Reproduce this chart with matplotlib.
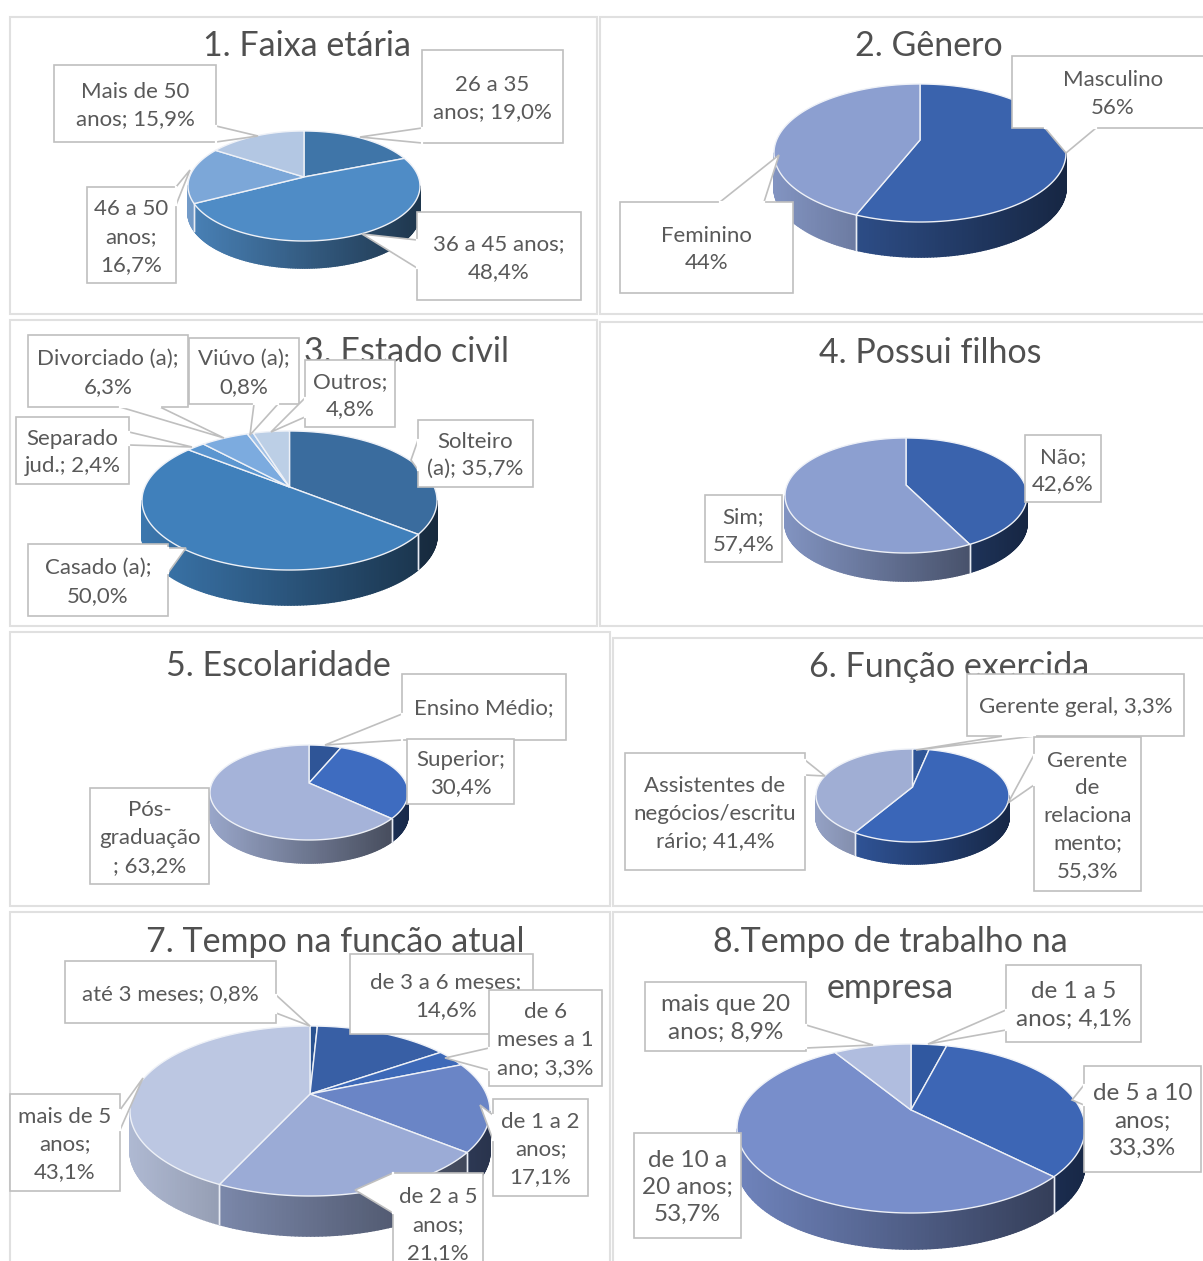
import numpy as np
from matplotlib import pyplot as plt
from matplotlib.collections import PolyCollection
from matplotlib.colors import to_rgb
from matplotlib.patches import Polygon, Rectangle

plt.rcParams['font.family'] = ['Lato', 'DejaVu Sans']

# dados de cada grafico
titles = ['1. Faixa etária', '2. Gênero', '3. Estado civil', '4. Possui filhos',
          '5. Escolaridade', '6. Função exercida', '7. Tempo na função atual',
          '8.Tempo de trabalho na', 'empresa']
v1 = [19.0, 48.4, 16.7, 15.9]
v2 = [56, 44]
v3 = [35.7, 50.0, 2.4, 6.3, 0.8, 4.8]
v4 = [42.6, 57.4]
v5 = [6.4, 30.4, 63.2]
v6 = [3.3, 55.3, 41.4]
v7 = [0.8, 14.6, 3.3, 17.1, 21.1, 43.1]
v8 = [4.1, 33.3, 53.7, 8.9]

l1 = ['26 a 35\nanos; 19,0%', '36 a 45 anos;\n48,4%', '46 a 50\nanos;\n16,7%', 'Mais de 50\nanos; 15,9%']
l2 = ['Masculino\n56%', 'Feminino\n44%']
l3 = ['Solteiro\n(a); 35,7%', 'Casado (a);\n50,0%', 'Separado\njud.; 2,4%',
      'Divorciado (a);\n6,3%', 'Viúvo (a);\n0,8%', 'Outros;\n4,8%']
l4 = ['Não;\n42,6%', 'Sim;\n57,4%']
l5 = ['Ensino Médio;', 'Superior;\n30,4%', 'Pós-\ngraduação\n; 63,2%']
l6 = ['Gerente geral, 3,3%', 'Gerente\nde\nrelaciona\nmento;\n55,3%',
      'Assistentes de\nnegócios/escritu\nrário; 41,4%']
l7 = ['até 3 meses; 0,8%', 'de 3 a 6 meses;\n14,6%', 'de 6\nmeses a 1\nano; 3,3%',
      'de 1 a 2\nanos;\n17,1%', 'de 2 a 5\nanos;\n21,1%', 'mais de 5\nanos;\n43,1%']
l8 = ['de 1 a 5\nanos; 4,1%', 'de 5 a 10\nanos;\n33,3%', 'de 10 a\n20 anos;\n53,7%', 'mais que 20\nanos; 8,9%']

c1 = ['#3f75a8', '#4f8cc6', '#7ca7d8', '#b3c7e3']
c2 = ['#3a63ad', '#8c9fd0']
c3 = ['#3a6c9e', '#4080bb', '#5b96d0', '#7cabdf', '#9fc0e6', '#bccfe6']
c4 = ['#3a63ad', '#8c9fd0']
c5 = ['#2f5597', '#3e6cc0', '#a5b3d9']
c6 = ['#2f5597', '#3a66b8', '#a0aed4']
c7 = ['#2a5290', '#385fa5', '#3d69b8', '#6a85c6', '#9babd6', '#bcc7e2']
c8 = ['#3058a0', '#3d66b5', '#788ecb', '#b0bddf']

# posicoes em pixels: esquerda, direita, topo, baixo, centro y, profundidade
pie_pos = [(188, 420, 131, 241, 177, 27), (774, 1066, 84, 222, 140, 35),
           (142, 437, 431, 570, 487, 35), (785, 1027, 438, 553, 485, 28),
           (210, 408, 745, 840, 783, 23), (816, 1009, 749, 842, 787, 22),
           (130, 490, 1026, 1196, 1094, 40), (737, 1085, 1044, 1213, 1110, 36)]

frames = [(10, 17, 597, 314), (600, 17, 1210, 314), (10, 320, 597, 626), (600, 322, 1210, 626),
          (10, 632, 610, 906), (613, 638, 1210, 906), (10, 912, 610, 1270), (613, 912, 1210, 1270)]
title_pos = [(307, 46), (929, 46), (406, 352), (930, 353), (278, 666), (949, 667), (335, 942),
             (890, 942), (890, 988)]
label_size = [16, 16, 16, 16, 16, 16, 16, 17.5]

# caixa (x0, y0, x1, y1), ponta e base do balao (None = sem seta)
box1 = [((422, 50, 563, 143), (360, 137), ((422, 128), (422, 143))),
        ((417, 212, 581, 300), (362, 234), ((417, 240), (417, 268))),
        ((87, 187, 176, 283), (190, 170), ((176, 187), (176, 205))),
        ((54, 65, 216, 142), (258, 136), ((216, 126), (216, 142)))]
box2 = [((1012, 56, 1210, 128), (1066, 153), ((1045, 128), (1096, 128))),
        ((620, 202, 793, 293), (779, 155), ((720, 202), (764, 202)))]
box3 = [((418, 420, 533, 487), (411, 460), ((418, 440), (418, 470))),
        ((28, 544, 168, 616), (186, 548), ((168, 548), (168, 573))),
        ((16, 417, 129, 484), (192, 447), ((129, 432), (129, 445))),
        ((28, 335, 188, 407), (224, 438), ((120, 407), (160, 407))),
        ((189, 338, 299, 404), (250, 435), ((254, 404), (278, 404))),
        ((305, 360, 395, 427), (271, 432), ((305, 398), (305, 417)))]
box4 = [((1025, 435, 1101, 502), None, None), ((705, 495, 782, 562), None, None)]
box5 = [((402, 674, 566, 740), (325, 745), ((402, 714), (402, 740))),
        ((407, 739, 514, 804), None, None),
        ((90, 788, 209, 884), None, None)]
box6 = [((967, 674, 1184, 736), (916, 750), ((1003, 736), (1035, 736))),
        ((1034, 737, 1141, 891), (1008, 803), ((1034, 755), (1034, 785))),
        ((625, 753, 805, 870), (825, 776), ((805, 760), (805, 775)))]
box7 = [((65, 961, 276, 1023), (310, 1026), ((276, 995), (276, 1013))),
        ((350, 954, 533, 1034), None, None),
        ((489, 990, 602, 1086), (445, 1058), ((489, 1048), (489, 1070))),
        ((493, 1099, 588, 1196), (480, 1105), ((493, 1115), (493, 1140))),
        ((393, 1173, 483, 1273), (355, 1190), ((393, 1173), (393, 1213))),
        ((10, 1094, 120, 1191), (143, 1078), ((120, 1110), (120, 1130)))]
box8 = [((1006, 965, 1141, 1042), (928, 1044), ((1006, 1010), (1006, 1030))),
        ((1084, 1066, 1201, 1172), (1072, 1100), ((1084, 1085), (1084, 1105))),
        ((634, 1133, 741, 1238), None, None),
        ((645, 982, 806, 1051), (873, 1045), ((806, 1025), (806, 1048)))]

fig = plt.figure(figsize=(12.03, 12.61), dpi=100)
ax = fig.add_axes([0, 0, 1, 1])


def shade(color, f):
    return tuple(min(1, c * f) for c in to_rgb(color))


def draw_pie(values, colors, pos):
    left, right, top, bottom, apex, depth = pos
    a = apex - top
    b = bottom - apex
    k = (b - a) / (b + a)  # perspectiva
    sy = a * (1 + k)
    sx = (right - left) / 2 * np.sqrt(1 - k ** 2)
    cx = (left + right) / 2

    def warp(t):
        x = np.cos(t)
        y = np.sin(t)
        w = 1 + k * y
        return cx + sx * x / w, apex - sy * y / w

    wedges = ax.pie(values, colors=colors, startangle=90, counterclock=False)[0]
    angles = [(w.theta1, w.theta2) for w in wedges]
    for w in wedges:
        w.remove()

    # lateral
    for (t1, t2), color in zip(angles, colors):
        ts = np.radians(np.arange(t1, t2 + 1, 1))
        ts[-1] = np.radians(t2)
        quads, cols = [], []
        for p, q in zip(ts[:-1], ts[1:]):
            if np.sin((p + q) / 2) >= -k:
                continue
            x1, y1 = warp(p)
            x2, y2 = warp(q)
            quads.append([(x1, y1), (x2, y2), (x2, y2 + depth), (x1, y1 + depth)])
            u = ((x1 + x2) / 2 - cx) / ((right - left) / 2)
            cols.append(shade(color, 0.66 - 0.27 * u))
        if quads:
            ax.add_collection(PolyCollection(quads, facecolors=cols, edgecolors=cols, linewidths=1.2, zorder=3))
        for t in np.radians([t1, t2]):
            if np.sin(t) < -k:
                x, y = warp(t)
                ax.plot([x, x], [y, y + depth], color='#e8ecf4', lw=1, zorder=4)

    # topo
    for (t1, t2), color in zip(angles, colors):
        ts = np.radians(np.linspace(t1, t2, 200))
        xs, ys = warp(ts)
        pts = np.vstack([[cx, apex], np.column_stack([xs, ys])])
        ax.add_patch(Polygon(pts, closed=True, facecolor=color, edgecolor='#eef1f7', lw=1, zorder=5))


def draw_label(box, tip, base, z):
    x0, y0, x1, y1 = box
    if tip is not None:
        ax.add_patch(Polygon([base[0], tip, base[1]], closed=True, facecolor='white',
                             edgecolor='#bfbfbf', lw=1.2, zorder=z))
    ax.add_patch(Rectangle((x0, y0), x1 - x0, y1 - y0, facecolor='white',
                           edgecolor='#bfbfbf', lw=1.2, zorder=z))
    if tip is not None:
        ax.plot([base[0][0], base[1][0]], [base[0][1], base[1][1]], color='white', lw=1.6, zorder=z)
    return (x0 + x1) / 2, (y0 + y1) / 2


for f in frames:
    ax.add_patch(Rectangle((f[0], f[1]), f[2] - f[0], f[3] - f[1], facecolor='white',
                           edgecolor='#e0e0e0', lw=1.5, zorder=1))

for t, (x, y) in zip(titles, title_pos):
    ax.text(x, y, t, fontsize=24.5, color='#505050', ha='center', va='center', zorder=2)

all_values = [v1, v2, v3, v4, v5, v6, v7, v8]
all_colors = [c1, c2, c3, c4, c5, c6, c7, c8]
all_labels = [l1, l2, l3, l4, l5, l6, l7, l8]
all_boxes = [box1, box2, box3, box4, box5, box6, box7, box8]

z_label = 6
for i in range(8):
    draw_pie(all_values[i], all_colors[i], pie_pos[i])
    spacing = 1.48 * 16 / label_size[i]
    for text, (box, tip, base) in zip(all_labels[i], all_boxes[i]):
        tx, ty = draw_label(box, tip, base, z_label)
        ty = ty + 2
        if text == 'Ensino Médio;':
            ty = 708
        if text == 'Masculino\n56%':
            tx = 1113
        if text == 'de 3 a 6 meses;\n14,6%':
            ty = 996
            tx = 446
        ax.text(tx, ty, text, fontsize=label_size[i], color='#595959', ha='center', va='center',
                zorder=z_label, linespacing=spacing)
        z_label += 1

ax.set_aspect('auto')
ax.set_xlim(0, 1203)
ax.set_ylim(1261, 0)
ax.axis('off')
plt.savefig('out.png', dpi=100)
